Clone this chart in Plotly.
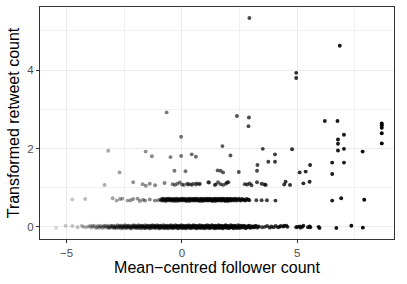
import plotly.graph_objects as go

# (follower, retweet) pairs, grouped by retweet level
zero_row = [(-5.45,-0.03),(-5.04,0.03),(-4.75,0.02),(-4.52,-0.01),(-4.34,0.03),(-4.27,0.00),(-4.16,-0.01),(-3.98,0.02),(-3.84,0.01),(-3.77,0.02),(-3.67,-0.01),(-3.55,0.01),(-3.41,0.00),(-3.33,0.02),(-3.19,0.01),(-3.12,-0.02),(-3.06,0.03),(-3.01,0.00),(-2.95,-0.03),(-2.90,0.02),(-2.86,-0.01),(-2.79,0.04),(-2.74,-0.02),(-2.70,0.01),(-2.64,-0.04),(-2.61,0.03),(-2.55,0.00),(-2.50,-0.02),(-2.47,0.04),(-2.41,-0.03),(-2.37,0.01),(-2.33,0.03),(-2.28,-0.01),(-2.22,-0.04),(-2.19,0.02),(-2.14,0.00),(-2.09,0.04),(-2.05,-0.02),(-2.01,0.02),(-1.96,-0.03),(-1.93,0.01),(-1.88,0.04),(-1.84,-0.01),(-1.79,0.02),(-1.76,-0.04),(-1.71,0.03),(-1.67,0.00),(-1.63,-0.02),(-1.59,0.04),(-1.56,-0.03),(-1.51,0.01),(-1.47,0.03),(-1.44,-0.01),(-1.39,-0.04),(-1.35,0.02),(-1.31,0.00),(-1.27,0.04),(-1.24,-0.02),(-1.19,0.02),(-1.15,-0.03),(-1.12,0.01),(-1.07,0.04),(-1.03,-0.01),(-0.99,0.02),(-0.96,-0.04),(-0.91,0.03),(-0.87,0.00),(-0.84,-0.02),(-0.79,0.04),(-0.75,-0.03),(-0.72,0.01),(-0.67,0.03),(-0.63,-0.01),(-0.60,-0.04),(-0.55,0.02),(-0.51,0.00),(-0.48,0.04),(-0.43,-0.02),(-0.40,0.02),(-0.36,-0.03),(-0.31,0.01),(-0.28,0.04),(-0.24,-0.01),(-0.19,0.02),(-0.16,-0.04),(-0.12,0.03),(-0.08,0.00),(-0.04,-0.02),(-0.01,0.04),(0.03,-0.03),(0.07,0.01),(0.10,0.03),(0.15,-0.01),(0.18,-0.04),(0.22,0.02),(0.27,0.00),(0.30,0.04),(0.34,-0.02),(0.39,0.02),(0.42,-0.03),(0.46,0.01),(0.51,0.04),(0.54,-0.01),(0.58,0.02),(0.63,-0.04),(0.66,0.03),(0.70,0.00),(0.75,-0.02),(0.78,0.04),(0.82,-0.03),(0.87,0.01),(0.90,0.03),(0.94,-0.01),(0.99,-0.04),(1.02,0.02),(1.06,0.00),(1.11,0.04),(1.14,-0.02),(1.18,0.02),(1.23,-0.03),(1.26,0.01),(1.30,0.04),(1.35,-0.01),(1.38,0.02),(1.42,-0.04),(1.47,0.03),(1.50,0.00),(1.54,-0.02),(1.59,0.04),(1.62,-0.03),(1.66,0.01),(1.71,0.03),(1.74,-0.01),(1.78,-0.04),(1.83,0.02),(1.86,0.00),(1.90,0.04),(1.95,-0.02),(1.98,0.02),(2.03,-0.03),(2.07,0.01),(2.12,0.04),(2.16,-0.01),(2.21,0.02),(2.25,-0.04),(2.30,0.03),(2.35,0.00),(2.40,-0.02),(2.44,0.04),(2.50,-0.03),(2.55,0.01),(2.61,0.03),(2.66,-0.01),(2.72,0.02),(2.78,-0.03),(2.83,0.00),(2.90,0.03),(2.96,-0.02),(3.03,0.01),(3.10,-0.01),(3.18,0.02),(3.26,-0.02),(3.34,0.01),(3.48,-0.01),(3.60,0.00),(3.70,0.02),(3.81,-0.02),(3.88,0.01),(3.98,-0.01),(4.07,0.02),(4.17,-0.01),(4.24,0.00),(4.29,0.02),(4.40,0.01),(4.44,0.03),(4.53,0.03),(4.58,0.00),(4.96,-0.01),(5.01,0.00),(5.11,0.01),(5.15,-0.02),(5.22,0.00),(5.27,0.03),(5.47,-0.01),(5.54,0.01),(5.57,-0.01),(5.93,0.00),(5.97,-0.03),(6.70,-0.03),(7.35,0.03),(7.85,-0.02)]

zero_core = [(-4.05,0.01),(-3.93,-0.02),(-3.88,0.03),(-3.72,-0.03),(-3.63,0.03),(-3.58,-0.02),(-3.50,0.02),(-3.45,-0.03),(-3.37,0.03),(-3.30,-0.02),(-3.24,0.03),(-3.21,-0.01),(-3.16,-0.03),(-3.09,0.02),(-3.03,-0.01),(-2.98,0.03),(-2.92,-0.02),(-2.88,0.00),(-2.83,-0.03),(-2.77,0.02),(-2.72,-0.01),(-2.67,0.03),(-2.63,0.00),(-2.58,-0.03),(-2.53,0.02),(-2.48,-0.01),(-2.44,0.03),(-2.39,-0.02),(-2.35,0.00),(-2.30,0.03),(-2.25,-0.02),(-2.21,0.01),(-2.16,-0.03),(-2.12,0.02),(-2.07,-0.01),(-2.03,0.03),(-1.98,0.00),(-1.95,-0.02),(-1.90,0.02),(-1.86,-0.03),(-1.82,0.01),(-1.77,0.03),(-1.73,-0.02),(-1.69,0.00),(-1.65,0.02),(-1.61,-0.03),(-1.57,0.01),(-1.53,-0.01),(-1.49,0.03),(-1.45,-0.02),(-1.41,0.00),(-1.37,0.03),(-1.33,-0.03),(-1.29,0.01),(-1.25,0.02),(-1.21,-0.01),(-1.17,0.03),(-1.13,-0.02),(-1.09,0.00),(-1.05,0.02),(-1.01,-0.03),(-0.97,0.01),(-0.93,-0.01),(-0.89,0.03),(-0.85,-0.02),(-0.81,0.00),(-0.77,0.02),(-0.73,-0.03),(-0.69,0.01),(-0.65,-0.01),(-0.61,0.03),(-0.57,-0.02),(-0.53,0.00),(-0.49,0.02),(-0.45,-0.03),(-0.41,0.01),(-0.38,-0.01),(-0.34,0.03),(-0.30,-0.02),(-0.26,0.00),(-0.22,0.02),(-0.18,-0.03),(-0.14,0.01),(-0.10,-0.01),(-0.06,0.03),(-0.02,-0.02),(0.01,0.00),(0.05,0.02),(0.09,-0.03),(0.13,0.01),(0.16,-0.01),(0.20,0.03),(0.24,-0.02),(0.28,0.00),(0.32,0.02),(0.36,-0.03),(0.40,0.01),(0.44,-0.01),(0.48,0.03),(0.52,-0.02),(0.56,0.00),(0.60,0.02),(0.64,-0.03),(0.68,0.01),(0.72,-0.01),(0.76,0.03),(0.80,-0.02),(0.84,0.00),(0.88,0.02),(0.92,-0.03),(0.96,0.01),(1.00,-0.01),(1.04,0.03),(1.08,-0.02),(1.12,0.00),(1.16,0.02),(1.20,-0.03),(1.24,0.01),(1.28,-0.01),(1.32,0.03),(1.36,-0.02),(1.40,0.00),(1.44,0.02),(1.48,-0.03),(1.52,0.01),(1.56,-0.01),(1.60,0.03),(1.64,-0.02),(1.68,0.00),(1.72,0.02),(1.76,-0.03),(1.80,0.01),(1.84,-0.01),(1.88,0.03),(1.92,-0.02),(1.96,0.00),(2.00,0.02),(2.05,-0.03),(2.09,0.01),(2.14,-0.01),(2.18,0.03),(2.23,-0.02),(2.27,0.00),(2.32,0.02),(2.37,-0.03),(2.42,0.01),(2.47,-0.01),(2.52,0.03),(2.58,-0.02),(2.63,0.00),(2.69,0.02),(2.75,-0.03),(2.81,0.01),(2.87,-0.01),(2.93,0.02),(2.99,-0.02),(3.07,0.01),(3.14,-0.01),(3.22,0.02),(3.30,0.00)]

one_row = [(-4.75,0.70),(-4.19,0.71),(-3.00,0.73),(-2.83,0.67),(-2.68,0.71),(-2.58,0.72),(-2.35,0.67),(-2.22,0.68),(-2.11,0.71),(-1.92,0.72),(-1.82,0.66),(-1.68,0.69),(-1.59,0.67),(-1.39,0.70),(-1.17,0.67),(-1.03,0.68),(-0.92,0.70),(-0.87,0.67),(-0.83,0.72),(-0.78,0.68),(-0.74,0.70),(-0.70,0.66),(-0.65,0.71),(-0.61,0.69),(-0.57,0.72),(-0.52,0.67),(-0.48,0.70),(-0.44,0.68),(-0.39,0.71),(-0.35,0.66),(-0.31,0.69),(-0.26,0.72),(-0.22,0.68),(-0.18,0.70),(-0.13,0.67),(-0.09,0.71),(-0.05,0.69),(0.00,0.72),(0.04,0.67),(0.08,0.70),(0.13,0.68),(0.17,0.71),(0.21,0.66),(0.26,0.69),(0.30,0.72),(0.34,0.68),(0.39,0.70),(0.43,0.67),(0.47,0.71),(0.52,0.69),(0.56,0.72),(0.60,0.67),(0.65,0.70),(0.69,0.68),(0.73,0.71),(0.78,0.66),(0.82,0.69),(0.86,0.72),(0.91,0.68),(0.95,0.70),(0.99,0.67),(1.04,0.71),(1.08,0.69),(1.12,0.72),(1.17,0.67),(1.21,0.70),(1.25,0.68),(1.30,0.71),(1.34,0.66),(1.38,0.69),(1.43,0.72),(1.47,0.68),(1.51,0.70),(1.56,0.67),(1.60,0.71),(1.64,0.69),(1.69,0.72),(1.73,0.67),(1.77,0.70),(1.82,0.68),(1.86,0.71),(1.90,0.66),(1.95,0.69),(1.99,0.72),(2.03,0.68),(2.08,0.70),(2.14,0.67),(2.19,0.71),(2.25,0.69),(2.31,0.72),(2.38,0.67),(2.45,0.70),(2.52,0.68),(2.60,0.71),(2.68,0.69),(2.76,0.67),(2.85,0.70),(2.93,0.68),(3.23,0.68),(3.46,0.68),(3.69,0.68),(4.06,0.67),(6.52,0.67),(6.91,0.73),(7.91,0.69)]

one_core = [(-0.90,0.68),(-0.85,0.71),(-0.80,0.67),(-0.76,0.72),(-0.72,0.69),(-0.67,0.67),(-0.63,0.71),(-0.59,0.68),(-0.54,0.70),(-0.50,0.72),(-0.46,0.67),(-0.41,0.69),(-0.37,0.71),(-0.33,0.68),(-0.28,0.70),(-0.24,0.66),(-0.20,0.72),(-0.15,0.69),(-0.11,0.67),(-0.07,0.70),(-0.02,0.68),(0.02,0.71),(0.06,0.69),(0.11,0.72),(0.15,0.67),(0.19,0.70),(0.24,0.68),(0.28,0.71),(0.32,0.66),(0.37,0.69),(0.41,0.72),(0.45,0.68),(0.50,0.70),(0.54,0.67),(0.58,0.71),(0.63,0.69),(0.67,0.72),(0.71,0.67),(0.76,0.70),(0.80,0.68),(0.84,0.71),(0.89,0.66),(0.93,0.69),(0.97,0.72),(1.02,0.68),(1.06,0.70),(1.10,0.67),(1.15,0.71),(1.19,0.69),(1.23,0.72),(1.28,0.67),(1.32,0.70),(1.36,0.68),(1.41,0.71),(1.45,0.66),(1.49,0.69),(1.54,0.72),(1.58,0.68),(1.62,0.70),(1.67,0.67),(1.71,0.71),(1.75,0.69),(1.80,0.72),(1.84,0.67),(1.88,0.70),(1.93,0.68),(1.97,0.71),(2.01,0.66),(2.06,0.69),(2.11,0.72),(2.16,0.68),(2.22,0.70),(2.28,0.67),(2.34,0.71),(2.41,0.69),(2.48,0.72),(2.56,0.67),(2.64,0.70),(2.72,0.68),(2.80,0.71),(2.89,0.69)]

two_row = [(-3.35,1.07),(-2.11,1.14),(-1.70,1.09),(-1.56,1.05),(-1.39,1.10),(-1.16,1.06),(-0.75,1.12),(-0.40,1.09),(-0.30,1.07),(-0.20,1.10),(-0.09,1.13),(0.01,1.08),(0.09,1.07),(0.23,1.10),(0.27,1.08),(0.35,1.09),(0.43,1.07),(0.49,1.10),(0.61,1.08),(0.64,1.11),(0.75,1.09),(0.78,1.10),(1.15,1.14),(1.18,1.13),(1.43,1.07),(1.47,1.08),(1.57,1.14),(1.68,1.09),(1.79,1.07),(1.91,1.10),(1.96,1.13),(2.02,1.14),(2.73,1.09),(2.83,1.08),(2.94,1.11),(3.02,1.06),(3.26,1.14),(3.46,1.10),(3.58,1.08),(3.64,1.07),(4.44,1.08),(4.50,1.15),(4.69,1.07),(5.27,1.11),(5.54,1.15)]

upper_rows = [(-2.70,1.39),(-0.32,1.43),(0.16,1.42),(1.55,1.44),(1.68,1.43),(1.79,1.39),(2.47,1.40),(3.26,1.43),(5.11,1.39),(5.37,1.41),(6.52,1.35),
              (3.28,1.58),(3.75,1.66),(4.04,1.66),(5.56,1.58),(6.52,1.64),(7.03,1.64),
              (-1.30,1.80),(-0.49,1.78),(-0.03,1.81),(0.43,1.85),(0.61,1.79),(2.11,1.82),(4.04,1.85),
              (-3.19,1.94),(-1.57,1.92),(1.76,2.06),(3.51,1.99),(4.78,1.98),(6.77,1.95),(7.03,1.99),(7.84,1.92),
              (-0.03,2.30),(6.77,2.12),(6.77,2.23),(7.03,2.35),(8.67,2.13),(8.67,2.39),(8.67,2.53),(8.67,2.59),(8.67,2.64),
              (6.20,2.70),(6.75,2.70),(2.89,2.57),(2.39,2.83),(2.91,2.79),(-0.66,2.92),
              (4.96,3.80),(4.96,3.93),(6.85,4.62),(2.93,5.33)]

x_ticks = [-5, 0, 5]
y_ticks = [0, 2, 4]

pts = zero_row + zero_core + one_row + one_core + two_row + upper_rows
xs = [p[0] for p in pts]
ys = [p[1] for p in pts]
xmin, xmax = min(xs), max(xs)
alphas = [0.15 + 0.85 * ((x - xmin) / (xmax - xmin)) ** 0.8 for x in xs]

fig = go.Figure(go.Scatter(
    x=xs, y=ys, mode="markers",
    marker=dict(color="black", size=3.9, opacity=alphas, line=dict(width=0)),
    hoverinfo="skip", showlegend=False,
))

axis_common = dict(
    showline=True, mirror=True, linecolor="#333333", linewidth=1,
    showgrid=True, gridcolor="#ebebeb", gridwidth=1.1,
    zeroline=False, ticks="outside", ticklen=3, tickwidth=1, tickcolor="#333333",
    tickfont=dict(size=11.5, color="#4d4d4d"),
)

fig.update_xaxes(
    range=[-6.15, 9.2], tickvals=x_ticks,
    minor=dict(showgrid=True, gridcolor="#f1f1f1", gridwidth=0.6, tickvals=[-2.5, 2.5, 7.5], ticks=""),
    title=dict(text="Mean\u2212centred follower count", font=dict(size=16, color="black"), standoff=3),
    **axis_common,
)
fig.update_yaxes(
    range=[-0.31, 5.61], tickvals=y_ticks,
    minor=dict(showgrid=True, gridcolor="#f1f1f1", gridwidth=0.6, tickvals=[1, 3, 5], ticks=""),
    title=dict(text="Transformed retweet count", font=dict(size=16, color="black"), standoff=3),
    **axis_common,
)

fig.update_layout(
    width=407, height=284,
    margin=dict(l=40, r=13, t=7, b=45, autoexpand=False),
    plot_bgcolor="white", paper_bgcolor="white",
    font=dict(family="Liberation Sans, Arial, sans-serif"),
)

fig.write_html("out.html", config={"displayModeBar": False},
               post_script="document.body.style.margin='0';")
